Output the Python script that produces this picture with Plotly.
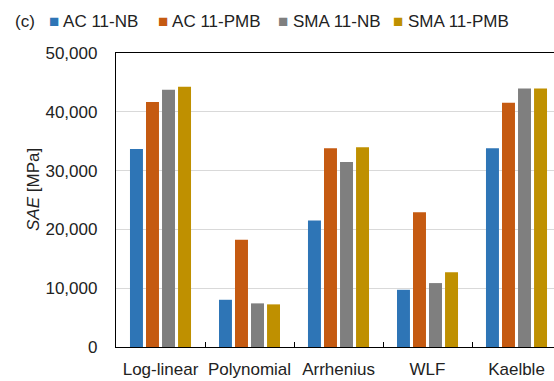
import plotly.graph_objects as go

categories = ["Log-linear", "Polynomial", "Arrhenius", "WLF", "Kaelble"]
series_names = ["AC 11-NB", "AC 11-PMB", "SMA 11-NB", "SMA 11-PMB"]
ac11_nb = [33670, 8030, 21510, 9730, 33790]
ac11_pmb = [41650, 18220, 33790, 22920, 41540]
sma11_nb = [43750, 7420, 31470, 10870, 43970]
sma11_pmb = [44260, 7250, 33960, 12730, 43970]
y_ticks = [0, 10000, 20000, 30000, 40000, 50000]

colors = ["#2E75B6", "#C55A11", "#7F7F7F", "#BF9000"]
values = [ac11_nb, ac11_pmb, sma11_nb, sma11_pmb]

W, H = 554, 381
L, T, B = 116, 53, 34
PW, PH = W - L, H - T - B
FONT = "Liberation Sans, Arial, sans-serif"
TXT = "#222222"

def px_x(x):
    return (x - L) / PW

def px_y(y):
    return (H - B - y) / PH

fig = go.Figure()
for name, vals, c in zip(series_names, values, colors):
    fig.add_trace(go.Bar(x=categories, y=vals, name=name, marker_color=c,
                         marker_line_width=0, showlegend=False))

annotations = [
    dict(text="(c)", x=px_x(13), y=px_y(21), xref="paper", yref="paper",
         xanchor="left", yanchor="middle", showarrow=False,
         font=dict(family=FONT, size=17, color=TXT)),
    dict(text="<i>SAE</i> [MPa]", x=px_x(33), y=px_y(190), xref="paper", yref="paper",
         xanchor="center", yanchor="middle", textangle=-90, showarrow=False,
         font=dict(family=FONT, size=17, color=TXT)),
]
leg_x = [47, 156, 276, 391]
for name, c, lx in zip(series_names, colors, leg_x):
    annotations.append(dict(
        text=f'<span style="color:{c}">■</span> {name}',
        x=px_x(lx), y=px_y(21), xref="paper", yref="paper",
        xanchor="left", yanchor="middle", showarrow=False,
        font=dict(family=FONT, size=17, color=TXT)))

fig.update_layout(
    width=W, height=H,
    margin=dict(l=L, r=0, t=T, b=B, pad=0, autoexpand=False),
    paper_bgcolor="white", plot_bgcolor="white",
    barmode="group", bargap=0.28, bargroupgap=0.19,
    font=dict(family=FONT, size=17, color=TXT),
    annotations=annotations,
    showlegend=False,
)
fig.update_xaxes(
    range=[-0.5, -0.5 + PW / 89.0],
    showline=True, linecolor="black", linewidth=1.3, mirror=True,
    ticks="inside", tickson="boundaries", ticklen=5, tickwidth=1.3, tickcolor="black",
    ticklabelstandoff=6, tickangle=0, automargin=False,
    tickfont=dict(family=FONT, size=17, color=TXT),
    showgrid=False,
)
fig.update_yaxes(
    range=[0, 50000], tickvals=y_ticks, tickformat=",d",
    showline=True, linecolor="black", linewidth=1.3, mirror=False,
    showgrid=True, gridcolor="#D9D9D9", gridwidth=1.2,
    zeroline=False, ticks="", ticklabelstandoff=14, automargin=False,
    tickfont=dict(family=FONT, size=17, color=TXT),
)

fig.write_html("out.html")
